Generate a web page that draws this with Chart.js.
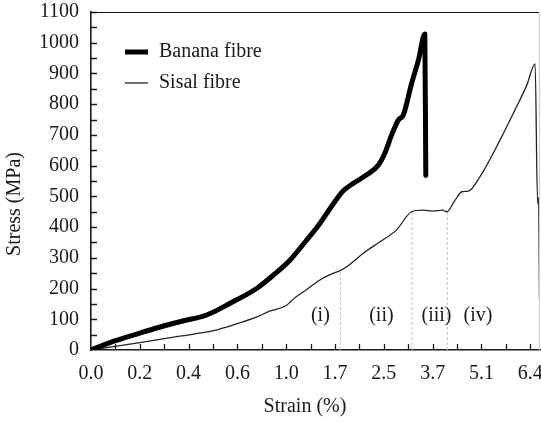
<!DOCTYPE html>
<html>
<head>
<meta charset="utf-8">
<script src="https://cdn.jsdelivr.net/npm/chart.js@4.4.1/dist/chart.umd.min.js"></script>
<style>
    html, body { margin: 0; padding: 0; background: #fff; }
    #wrap { position: relative; width: 541px; height: 422px; }
</style>
</head>
<body>
<div id="wrap"><canvas id="stressStrain"></canvas></div>
<script>
// The strain axis is evenly spaced by tick, not by value: positions below
// are in tick units (0 = first label, 1 = second, ...).
const STRAIN_LABELS = ['0.0', '0.2', '0.4', '0.6', '1.0', '1.7', '2.5', '3.7', '5.1', '6.4'];

const BANANA_POS    = [0, 0.4, 1.0, 1.4, 1.82, 2.37, 2.85, 3.40, 3.74, 4.08, 4.42, 4.69, 4.97, 5.17, 5.37, 5.65, 5.89, 6.02, 6.16, 6.3, 6.4, 6.57, 6.71, 6.84, 6.86];
const BANANA_STRESS = [0, 25, 55, 74, 92, 114, 152, 201, 244, 293, 358, 412, 477, 518, 542, 570, 602, 640, 700, 749, 765, 868, 944, 1028, 568];

const SISAL_POS    = [0, 0.5, 1.0, 1.82, 2.51, 2.98, 3.40, 3.67, 3.98, 4.21, 4.42, 4.69, 4.97, 5.10, 5.24, 5.58, 5.92, 6.26, 6.57, 6.8, 7.0, 7.2, 7.29, 7.45, 7.6, 7.73, 7.97, 8.38, 8.72, 8.93, 9.1, 9.15, 9.17, 9.19];
const SISAL_STRESS = [0, 12, 24, 45, 63, 85, 108, 127, 143, 174, 197, 228, 250, 258, 271, 315, 352, 391, 450, 455, 452, 455, 450, 485, 515, 517, 564, 683, 792, 862, 931, 477, 497, 168];

// Boundaries between the regions marked (i)..(iv)
const BOUNDARY_POS = [5.11, 6.58, 7.30];
const BOUNDARY_TOP = [260, 452, 452];

const REGION_LABELS = ['(i)', '(ii)', '(iii)', '(iv)'];
const REGION_POS    = [4.70, 5.95, 7.08, 7.93];
const REGION_STRESS = [112, 112, 112, 112];

const FONT = 'Liberation Serif, "Times New Roman", serif';
const INK = '#1a1a1a';

const toPoints = (xs, ys) => xs.map((x, i) => ({ x, y: ys[i] }));

const boundarySets = BOUNDARY_POS.map((x, i) => ({
    label: 'boundary',
    data: [{ x, y: 0 }, { x, y: BOUNDARY_TOP[i] }],
    borderColor: '#c4c4c4',
    borderWidth: 1,
    borderDash: [3, 2],
    pointRadius: 0,
    order: 3,
}));

// Inward tick marks, frame, legend, region labels and axis titles
const decor = {
    id: 'decor',
    afterDatasetsDraw(chart) {
        const { ctx, chartArea: a, scales: { x, y } } = chart;
        ctx.save();

        ctx.strokeStyle = INK;
        ctx.lineWidth = 1.3;
        ctx.beginPath();
        x.ticks.forEach(t => {
            const px = Math.round(x.getPixelForValue(t.value)) + 0.5;
            if (t.value === 0) return;
            ctx.moveTo(px, a.bottom);
            ctx.lineTo(px, a.bottom - 6);
        });
        y.ticks.forEach(t => {
            const py = Math.round(y.getPixelForValue(t.value)) + 0.5;
            if (t.value === 0) return;
            ctx.moveTo(a.left, py);
            ctx.lineTo(a.left + 6, py);
        });
        ctx.stroke();

        // top and right edges of the frame
        ctx.lineWidth = 1.2;
        ctx.strokeStyle = '#111';
        ctx.beginPath();
        ctx.moveTo(a.left, a.top + 0.5);
        ctx.lineTo(a.right, a.top + 0.5);
        ctx.stroke();
        ctx.strokeStyle = '#cfcfcf';
        ctx.beginPath();
        ctx.moveTo(a.right - 0.5, a.top);
        ctx.lineTo(a.right - 0.5, a.bottom);
        ctx.stroke();

        ctx.font = '20px ' + FONT;
        ctx.fillStyle = INK;
        ctx.textBaseline = 'middle';

        // region labels
        ctx.textAlign = 'center';
        REGION_LABELS.forEach((txt, i) => {
            ctx.fillText(txt, x.getPixelForValue(REGION_POS[i]), y.getPixelForValue(REGION_STRESS[i]));
        });

        // legend
        ctx.textAlign = 'left';
        chart.data.datasets.filter(d => d.inLegend).forEach((d, i) => {
            const ly = 52 + i * 31;
            ctx.strokeStyle = d.borderColor;
            ctx.lineWidth = d.borderWidth;
            ctx.beginPath();
            ctx.moveTo(125, ly);
            ctx.lineTo(148, ly);
            ctx.stroke();
            ctx.fillText(d.label, 159, ly);
        });

        // axis titles
        ctx.textAlign = 'center';
        ctx.fillText('Strain (%)', 305, 407);
        ctx.translate(15, 204);
        ctx.rotate(-Math.PI / 2);
        ctx.fillText('Stress (MPa)', 0, 0);

        ctx.restore();
    },
};

new Chart(document.getElementById('stressStrain').getContext('2d'), {
    type: 'line',
    data: {
        datasets: [
            {
                label: 'Banana fibre',
                data: toPoints(BANANA_POS, BANANA_STRESS),
                borderColor: '#000',
                borderWidth: 5,
                borderCapStyle: 'round',
                borderJoinStyle: 'round',
                cubicInterpolationMode: 'monotone',
                pointRadius: 0,
                inLegend: true,
                order: 1,
            },
            {
                label: 'Sisal fibre',
                data: toPoints(SISAL_POS, SISAL_STRESS),
                borderColor: '#222',
                borderWidth: 1.3,
                cubicInterpolationMode: 'monotone',
                pointRadius: 0,
                inLegend: true,
                order: 2,
            },
            ...boundarySets,
        ],
    },
    options: {
        responsive: true,
        maintainAspectRatio: false,
        animation: false,
        layout: { padding: { top: 12, right: 1, left: 0, bottom: 0 } },
        plugins: { legend: { display: false }, tooltip: { enabled: false } },
        scales: {
            x: {
                type: 'linear',
                min: 0,
                max: 9.2,
                afterFit: s => {
                    s.height = 72;
                    s.paddingLeft = 0;
                    s.paddingRight = 0;
                },
                afterBuildTicks: s => {
                    s.ticks = [];
                    for (let v = 0; v <= 9; v += 0.5) s.ticks.push({ value: v });
                },
                grid: { display: false },
                border: { display: true, color: INK, width: 1.6 },
                ticks: {
                    autoSkip: false,
                    maxRotation: 0,
                    padding: 4,
                    color: INK,
                    font: { family: FONT, size: 20 },
                    callback: v => Number.isInteger(v) ? STRAIN_LABELS[v] : '',
                },
            },
            y: {
                min: 0,
                max: 1100,
                afterFit: s => {
                    s.width = 91;
                    s.paddingTop = 0;
                    s.paddingBottom = 0;
                },
                grid: { display: false },
                border: { display: true, color: INK, width: 1.6 },
                ticks: {
                    stepSize: 50,
                    autoSkip: false,
                    padding: 4,
                    color: INK,
                    font: { family: FONT, size: 20 },
                    callback: v => v % 100 === 0 ? v : '',
                },
            },
        },
    },
    plugins: [decor],
});
</script>
</body>
</html>
